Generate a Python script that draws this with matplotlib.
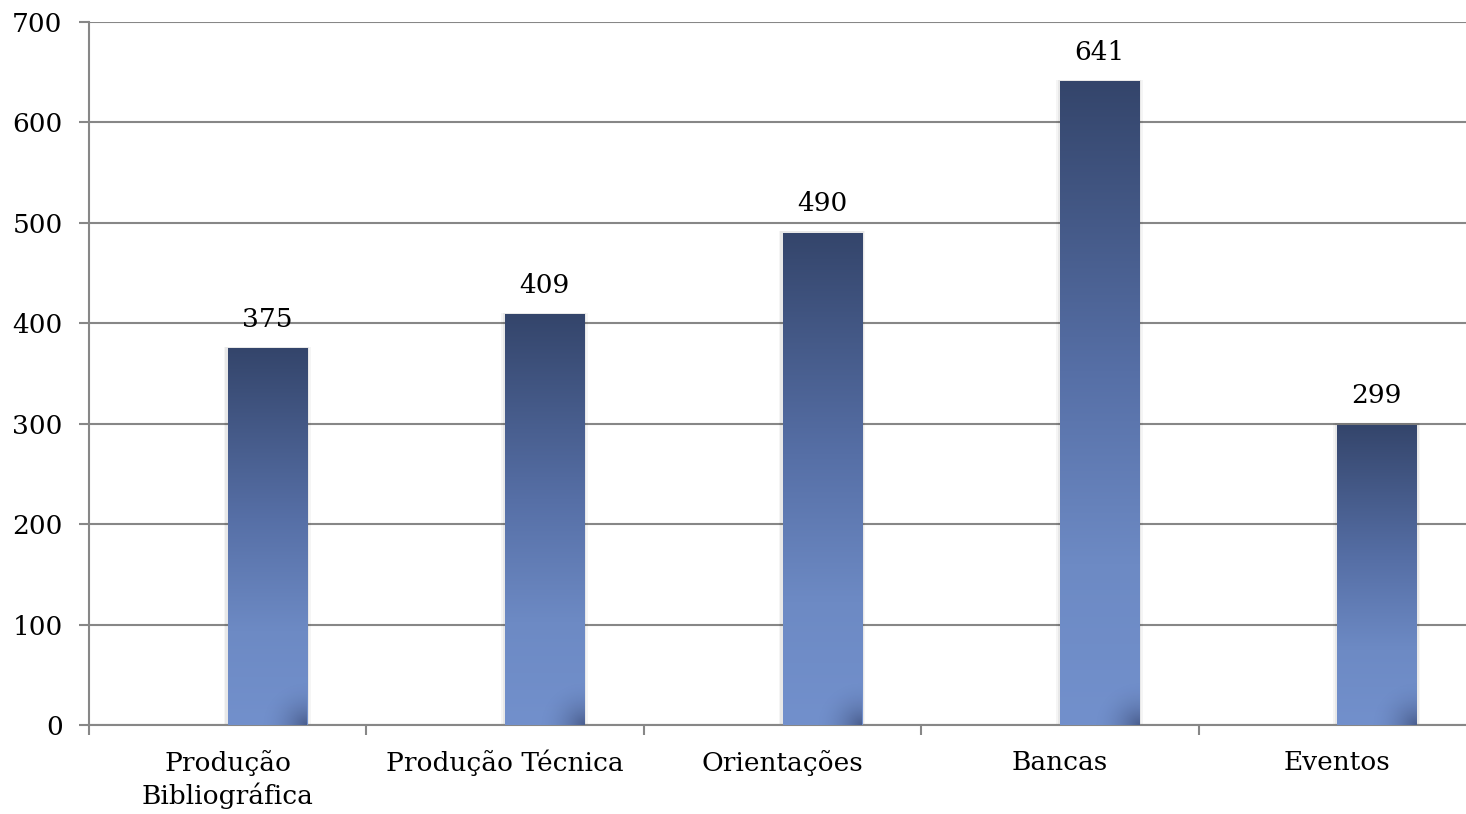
import numpy as np
import matplotlib.pyplot as plt
from matplotlib.colors import LinearSegmentedColormap
from matplotlib.patches import Rectangle

# dados
categorias = ['Produção\nBibliográfica', 'Produção Técnica', 'Orientações', 'Bancas', 'Eventos']
valores = [375, 409, 490, 641, 299]
yticks = [0, 100, 200, 300, 400, 500, 600, 700]

plt.rcParams['font.family'] = 'DejaVu Serif'
plt.rcParams['font.size'] = 19

cinza = '#878787'
grad = LinearSegmentedColormap.from_list(
    'barra', [(0.0, '#7290cc'), (0.25, '#6d8ac4'), (0.55, '#566fa6'), (1.0, '#34456b')])

fig = plt.figure(figsize=(14.66, 8.14), dpi=100)
ax = fig.add_axes([89/1466, 89/814, 1387/1466, 703/814])

x = np.arange(len(valores))
larg = 0.285
ax.set_xlim(-0.5, len(valores) - 0.5)
ax.set_ylim(0, 700)

# canto escuro (mesmo para todas as barras)
yy, xx = np.mgrid[0:1:80j, 0:1:80j]
d = np.sqrt((1 - xx)**2 + yy**2)
sh = np.zeros((80, 80, 4))
sh[..., 0:3] = [0.14, 0.18, 0.32]
sh[..., 3] = 0.5 * np.clip(1 - d, 0, 1)**2

# barras com gradiente
g = np.linspace(0, 1, 256).reshape(-1, 1)
for xi, v in zip(x, valores):
    # sombra leve
    for k, a in [(0.014, 0.04), (0.008, 0.05)]:
        ax.add_patch(Rectangle((xi - k, 0), larg + 2*k, v + 1.5, facecolor='k',
                               alpha=a, edgecolor='none', zorder=2))
    r = Rectangle((xi, 0), larg, v, facecolor='none', edgecolor='none', zorder=3)
    ax.add_patch(r)
    im = ax.imshow(g, cmap=grad, origin='lower', aspect='auto',
                   extent=(xi, xi + larg, 0, v), zorder=3, interpolation='bilinear')
    im.set_clip_path(r)
    ims = ax.imshow(sh, origin='lower', aspect='auto',
                    extent=(xi + larg*0.4, xi + larg, 0, 45), zorder=4,
                    interpolation='bilinear')
    ims.set_clip_path(r)
    ax.annotate(str(v), (xi + larg/2, v), xytext=(0, 12), textcoords='offset points',
                ha='center', va='bottom')

ax.set_yticks(yticks)
ax.grid(axis='y', color=cinza, linewidth=1.5, zorder=1)
ax.set_axisbelow(True)
ax.set_xticks(x)
ax.set_xticklabels(categorias, linespacing=1.3)
ax.set_xticks(np.arange(len(valores) + 1) - 0.5, minor=True)
ax.tick_params(axis='x', which='major', length=0, pad=18)
ax.tick_params(axis='x', which='minor', length=7, width=1.5, color=cinza, direction='out')
ax.tick_params(axis='y', length=7, width=1.5, color=cinza, pad=12)

for s in ['top', 'right']:
    ax.spines[s].set_visible(False)
for s in ['left', 'bottom']:
    ax.spines[s].set_color(cinza)
    ax.spines[s].set_linewidth(1.5)

plt.savefig('out.png', dpi=100)
